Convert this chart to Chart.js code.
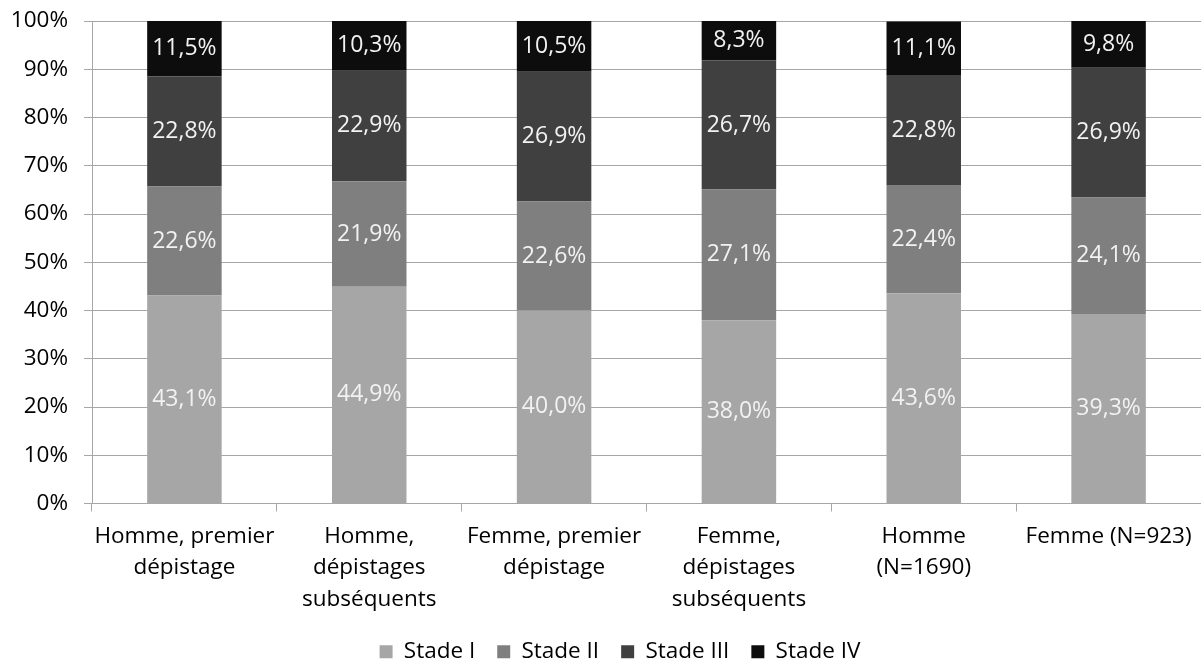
<!DOCTYPE html>
<html>
<head>
<meta charset="utf-8">
<script src="https://cdn.jsdelivr.net/npm/chart.js@4.4.1/dist/chart.umd.min.js"></script>
<style>
  html, body { margin: 0; padding: 0; background: #fff; }
  #wrap { width: 1201px; height: 663px; }
</style>
</head>
<body>
<div id="wrap"><canvas id="myChart"></canvas></div>
<script>
// categories (multi-line labels as in the source)
const categories = [
    ['Homme, premier', 'dépistage'],
    ['Homme,', 'dépistages', 'subséquents'],
    ['Femme, premier', 'dépistage'],
    ['Femme,', 'dépistages', 'subséquents'],
    ['Homme', '(N=1690)'],
    ['Femme (N=923)'],
];

// percentages per stage
const stade1 = [43.1, 44.9, 40.0, 38.0, 43.6, 39.3];
const stade2 = [22.6, 21.9, 22.6, 27.1, 22.4, 24.1];
const stade3 = [22.8, 22.9, 26.9, 26.7, 22.8, 26.9];
const stade4 = [11.5, 10.3, 10.5, 8.3, 11.1, 9.8];

const yTicks = [0, 10, 20, 30, 40, 50, 60, 70, 80, 90, 100];

const FONT = 'Open Sans';

// draws the value inside each bar segment (no datalabels plugin available)
const barLabels = {
    id: 'barLabels',
    afterDatasetsDraw(chart) {
        const ctx = chart.ctx;
        ctx.save();
        ctx.font = '23px "' + FONT + '"';
        ctx.fillStyle = '#f2f2f2';
        ctx.textAlign = 'center';
        ctx.textBaseline = 'middle';
        chart.data.datasets.forEach((ds, i) => {
            const meta = chart.getDatasetMeta(i);
            meta.data.forEach((bar, j) => {
                const v = ds.data[j];
                const top = Math.max(bar.y, chart.chartArea.top);
                const y = (top + bar.base) / 2;
                ctx.fillText(v.toFixed(1).replace('.', ',') + '%', bar.x, y);
            });
        });
        ctx.restore();
    },
};

// the legend in the original sits a little right of centre
const legendShift = {
    id: 'legendShift',
    afterLayout(chart) {
        chart.legend.left += 16;
        chart.legend.right += 16;
    },
};

// no extra room for tick labels, the plot area is placed by layout.padding
const noScalePadding = (s) => {
    s.paddingTop = 0;
    s.paddingBottom = 0;
    s.paddingLeft = 0;
    s.paddingRight = 0;
};

const canvas = document.getElementById('myChart');
new Chart(canvas, {
    type: 'bar',
    data: {
        labels: categories,
        datasets: [
            { label: 'Stade I', data: stade1, backgroundColor: '#a6a6a6' },
            { label: 'Stade II', data: stade2, backgroundColor: '#7f7f7f' },
            { label: 'Stade III', data: stade3, backgroundColor: '#404040' },
            { label: 'Stade IV', data: stade4, backgroundColor: '#0d0d0d' },
        ],
    },
    options: {
        responsive: true,
        maintainAspectRatio: false,
        animation: false,
        layout: {
            autoPadding: false,
            padding: { top: 21, right: -7, left: 0, bottom: -10 },
        },
        datasets: {
            bar: { categoryPercentage: 1, barPercentage: 0.403 },
        },
        plugins: {
            legend: {
                position: 'bottom',
                labels: {
                    boxWidth: 13,
                    boxHeight: 13,
                    padding: 22,
                    color: '#000',
                    font: { family: FONT, size: 22.5 },
                },
            },
            tooltip: { enabled: false },
        },
        scales: {
            x: {
                stacked: true,
                offset: true,
                afterFit: (s) => { s.height = 115; noScalePadding(s); },
                grid: {
                    offset: true,
                    drawOnChartArea: false,
                    drawTicks: true,
                    tickLength: 8,
                    color: '#a6a6a6',
                },
                border: { color: '#a6a6a6', width: 1 },
                ticks: {
                    color: '#000',
                    maxRotation: 0,
                    autoSkip: false,
                    padding: 10,
                    font: { family: FONT, size: 22.5, lineHeight: 1.38 },
                },
            },
            y: {
                stacked: true,
                min: 0,
                max: 100,
                afterBuildTicks: (s) => { s.ticks = yTicks.map((v) => ({ value: v })); },
                afterFit: (s) => { s.width = 92; noScalePadding(s); },
                grid: { color: '#a6a6a6', tickLength: 8 },
                border: { color: '#a6a6a6', width: 1 },
                ticks: {
                    color: '#000',
                    padding: 16,
                    font: { family: FONT, size: 22.5 },
                    callback: (v) => v + '%',
                },
            },
        },
    },
    plugins: [barLabels, legendShift],
});
</script>
</body>
</html>
